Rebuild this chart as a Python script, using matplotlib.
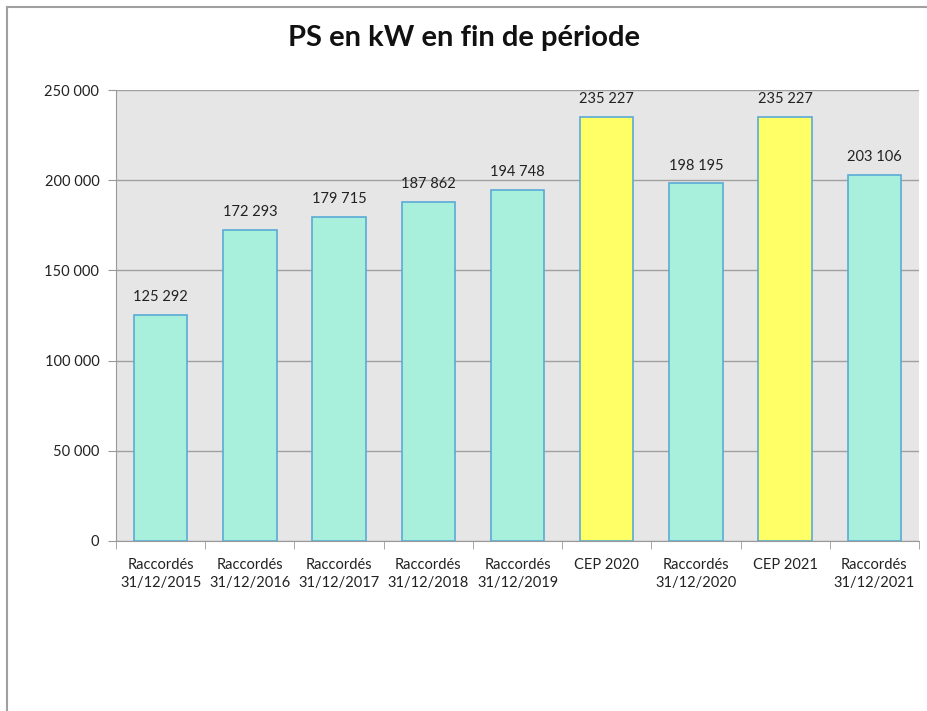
import matplotlib
matplotlib.use("Agg")
import matplotlib.pyplot as plt
from matplotlib.lines import Line2D

categories = ["Raccordés\n31/12/2015", "Raccordés\n31/12/2016", "Raccordés\n31/12/2017",
              "Raccordés\n31/12/2018", "Raccordés\n31/12/2019", "CEP 2020",
              "Raccordés\n31/12/2020", "CEP 2021", "Raccordés\n31/12/2021"]
values = [125292, 172293, 179715, 187862, 194748, 235227, 198195, 235227, 203106]
kinds = ["r", "r", "r", "r", "r", "c", "r", "c", "r"]
yticks = [0, 50000, 100000, 150000, 200000, 250000]

plt.rcParams['font.family'] = ['Lato', 'DejaVu Sans']

def fmt(v):
    return f"{v:,}".replace(",", " ")

fig = plt.figure(figsize=(9.27, 7.11), dpi=100)
ax = fig.add_axes([116/927, 1-541/711, 803/927, 451/711])
ax.set_facecolor('#E6E6E6')

colors = ['#A8F0DC' if k == 'r' else '#FFFF66' for k in kinds]
x = list(range(len(categories)))
ax.bar(x, values, width=0.6, color=colors, edgecolor='#5AAAD6', linewidth=1.2, zorder=3)
for xi, v in zip(x, values):
    ax.text(xi, v + 6000, fmt(v), ha='center', va='bottom', fontsize=10.5, color='#222222')

ax.set_xlim(-0.5, len(categories) - 0.5)
ax.set_ylim(0, 250000)
ax.set_yticks(yticks)
ax.set_yticklabels([fmt(t) for t in yticks], fontsize=10.5, color='#222222')
ax.set_xticks(x)
ax.set_xticklabels(categories, fontsize=10.5, color='#222222', linespacing=1.4)
ax.set_xticks([i - 0.5 for i in range(len(categories) + 1)], minor=True)
ax.tick_params(axis='x', which='major', length=0, pad=12)
ax.tick_params(axis='x', which='minor', length=6, color='#999999')
ax.tick_params(axis='y', length=6, color='#999999', pad=6)
ax.yaxis.grid(True, color='#A0A0A0', linewidth=1, zorder=0)
ax.set_axisbelow(True)
for s in ['top', 'right']:
    ax.spines[s].set_visible(False)
ax.spines['left'].set_color('#999999')
ax.spines['bottom'].set_color('#999999')

fig.text(0.5, 1-38/711, "PS en kW en fin de période", ha='center', va='center',
         fontsize=21, fontweight='bold', color='#111111')

fig.add_artist(Line2D([7/927, 7/927], [0, 1-7/711], transform=fig.transFigure, color='#A0A0A0', linewidth=1.5))
fig.add_artist(Line2D([7/927, 1], [1-7/711, 1-7/711], transform=fig.transFigure, color='#A0A0A0', linewidth=1.5))

fig.savefig("out.png", dpi=100)
